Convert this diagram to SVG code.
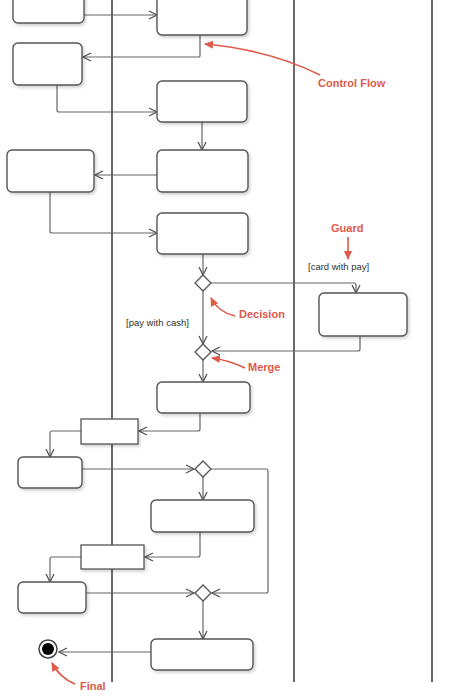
<svg xmlns="http://www.w3.org/2000/svg" width="455" height="700" viewBox="0 0 455 700">
<defs>
<marker id="open" markerWidth="10" markerHeight="10" refX="9" refY="5" orient="auto" markerUnits="userSpaceOnUse">
<path d="M1,1 L9,5 L1,9" fill="none" stroke="#555" stroke-width="1.3"/>
</marker>
<marker id="red" markerWidth="10" markerHeight="10" refX="8" refY="5" orient="auto" markerUnits="userSpaceOnUse">
<path d="M0,1 L9,5 L0,9 Z" fill="#e05a4a"/>
</marker>
<filter id="sh" x="-10%" y="-10%" width="130%" height="140%">
<feDropShadow dx="1.5" dy="2" stdDeviation="1.5" flood-color="#000" flood-opacity="0.18"/>
</filter>
</defs>
<style>
.lane{stroke:#444;stroke-width:1.6;fill:none}
.act{fill:#fff;stroke:#555;stroke-width:1.4;filter:url(#sh)}
.obj{fill:#fff;stroke:#555;stroke-width:1.3;filter:url(#sh)}
.dia{fill:#fff;stroke:#555;stroke-width:1.3}
.c{fill:none;stroke:#666;stroke-width:1.2;marker-end:url(#open)}
.r{fill:none;stroke:#e05a4a;stroke-width:1.6;marker-end:url(#red)}
.rt{font-family:"Liberation Sans",Arial,sans-serif;font-size:11px;font-weight:bold;fill:#e05a4a}
.g{font-family:"Liberation Sans",Arial,sans-serif;font-size:9.5px;fill:#333}
</style>
<rect width="455" height="700" fill="#fff"/>
<g id="lanes">
<line class="lane" x1="112" y1="0" x2="112" y2="682" stroke-width="2.2"/>
<line class="lane" x1="294" y1="0" x2="294" y2="682"/>
<line class="lane" x1="432" y1="0" x2="432" y2="682"/>
</g>
<g id="connectors">
<path class="c" d="M84,15 H157"/>
<path class="c" d="M200,35 V56 Q200,57 199,57 H83"/>
<path class="c" d="M57,85 V110 Q57,112 59,112 H157"/>
<path class="c" d="M202,122 V150"/>
<path class="c" d="M157,175 H95"/>
<path class="c" d="M50,192 V231 Q50,233 52,233 H157"/>
<path class="c" d="M203,254 V275"/>
<path class="c" d="M211,283 H354 Q356,283 356,285 V293"/>
<path class="c" d="M203,291 V344"/>
<path class="c" d="M360,336 V349 Q360,351 358,351 H212"/>
<path class="c" d="M203,360 V382"/>
<path class="c" d="M200,413 V429 Q200,431 198,431 H139"/>
<path class="c" d="M81,431 H52 Q50,431 50,433 V457"/>
<path class="c" d="M82,469 H194"/>
<path class="c" d="M211,469 H266 Q268,469 268,471 V591 Q268,593 266,593 H212"/>
<path class="c" d="M203,477 V500"/>
<path class="c" d="M200,532 V555 Q200,557 198,557 H145"/>
<path class="c" d="M81,557 H52 Q50,557 50,559 V582"/>
<path class="c" d="M86,593 H194"/>
<path class="c" d="M203,601 V639"/>
<path class="c" d="M151,652 H59"/>
</g>
<g id="n1"><rect class="act" x="13" y="-10" width="71" height="33" rx="5"/></g>
<g id="n2"><rect class="act" x="157" y="-10" width="90" height="45" rx="5"/></g>
<g id="n3"><rect class="act" x="13" y="43" width="69" height="42" rx="5"/></g>
<g id="n4"><rect class="act" x="157" y="81" width="90" height="41" rx="5"/></g>
<g id="n5"><rect class="act" x="157" y="150" width="91" height="42" rx="5"/></g>
<g id="n6"><rect class="act" x="7" y="150" width="87" height="42" rx="5"/></g>
<g id="n7"><rect class="act" x="157" y="213" width="91" height="41" rx="5"/></g>
<g id="decision1"><path class="dia" d="M203,275 L211,283 L203,291 L195,283 Z"/></g>
<g id="n8"><rect class="act" x="319" y="293" width="88" height="43" rx="5"/></g>
<g id="merge1"><path class="dia" d="M203,344 L211,352 L203,360 L195,352 Z"/></g>
<g id="n9"><rect class="act" x="157" y="382" width="93" height="31" rx="5"/></g>
<g id="o1"><rect class="obj" x="81" y="419" width="57" height="25"/></g>
<g id="n10"><rect class="act" x="18" y="457" width="64" height="31" rx="5"/></g>
<g id="merge2"><path class="dia" d="M203,461 L211,469 L203,477 L195,469 Z"/></g>
<g id="n11"><rect class="act" x="151" y="500" width="103" height="32" rx="5"/></g>
<g id="o2"><rect class="obj" x="81" y="545" width="63" height="24"/></g>
<g id="n12"><rect class="act" x="18" y="582" width="68" height="31" rx="5"/></g>
<g id="merge3"><path class="dia" d="M203,585 L211,593 L203,601 L195,593 Z"/></g>
<g id="n13"><rect class="act" x="151" y="639" width="102" height="31" rx="5"/></g>
<g id="final">
<circle cx="48" cy="649" r="9" fill="#fff" stroke="#444" stroke-width="1.5"/>
<circle cx="48" cy="649" r="6" fill="#000"/>
</g>
<g id="annotations">
<path class="r" d="M320,75 Q270,50 205,44"/>
<text class="rt" x="318" y="87">Control Flow</text>
<text class="rt" x="331" y="232">Guard</text>
<path class="r" d="M348,237 V259"/>
<text class="g" x="308" y="270">[card with pay]</text>
<text class="g" x="126" y="326">[pay with cash]</text>
<path class="r" d="M235,316 Q218,312 211,298"/>
<text class="rt" x="239" y="318">Decision</text>
<path class="r" d="M245,368 Q228,360 212,358"/>
<text class="rt" x="248" y="371">Merge</text>
<path class="r" d="M75,684 Q60,678 52,663"/>
<text class="rt" x="80" y="690">Final</text>
</g>
</svg>
